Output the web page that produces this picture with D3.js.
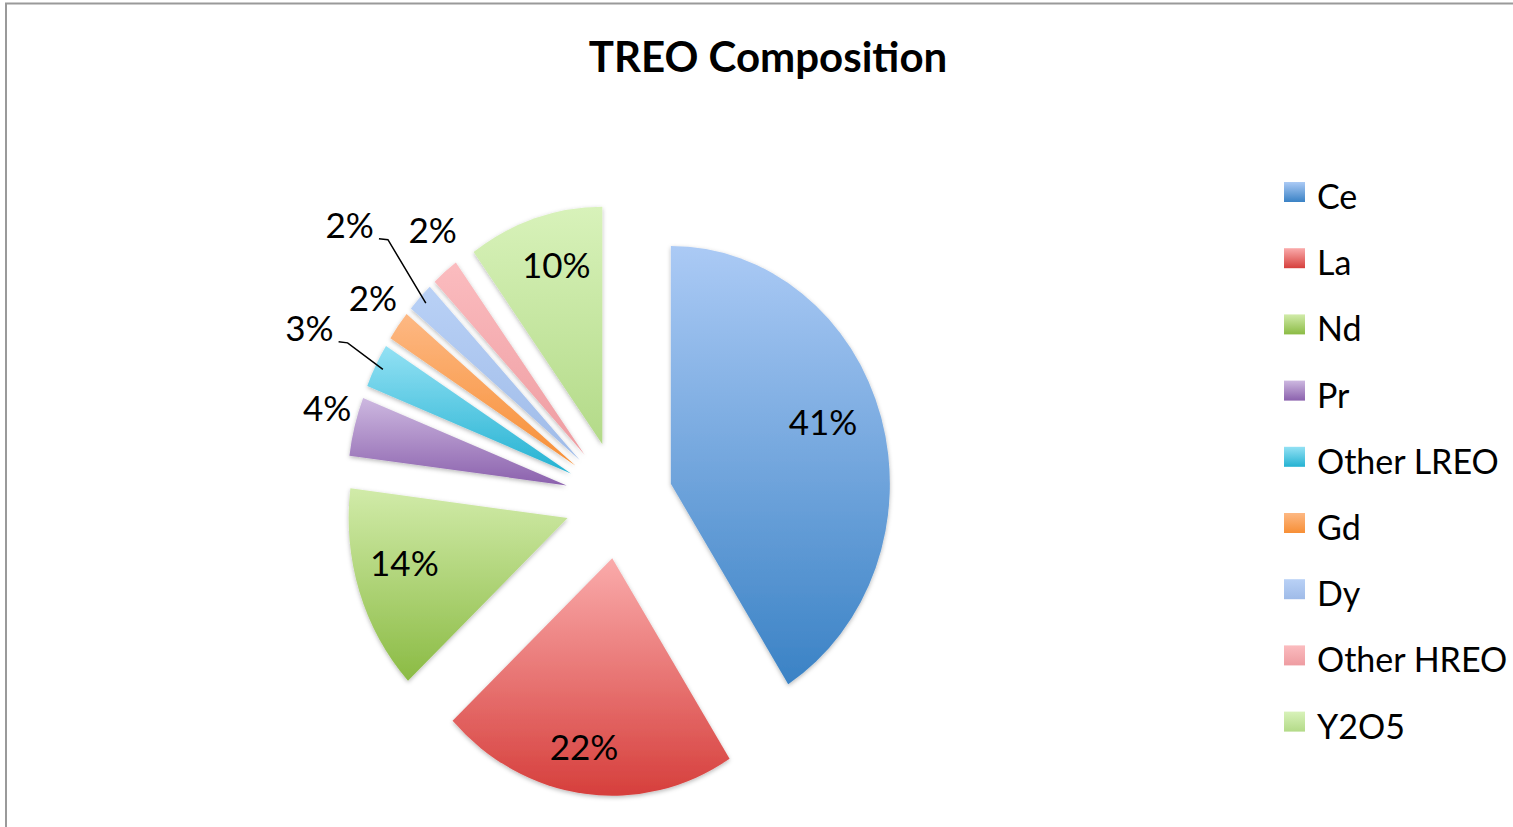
<!DOCTYPE html>
<html>
<head>
<meta charset="utf-8">
<script src="https://cdn.jsdelivr.net/npm/d3@7/dist/d3.min.js"></script>
<style>
  body { margin: 0; background: #fff; }
  text { font-family: Lato, "Open Sans", sans-serif; fill: #000; }
</style>
</head>
<body>
<div id="output"></div>
<script>
var elements = ['Ce', 'La', 'Nd', 'Pr', 'Other LREO', 'Gd', 'Dy', 'Other HREO', 'Y2O5'];
var shares = [41, 22, 14, 4, 3, 2, 2, 2, 10];

var topColors = ['#abcaf5', '#faabab', '#d1eba9', '#cdb8e0', '#93e1f4', '#fdb883', '#b9d1f6', '#fbbcbf', '#d8f2ba'];
var bottomColors = ['#3a82c5', '#d63f3c', '#8bbb44', '#8b61ad', '#24b2d2', '#f78f36', '#9fbbe8', '#ee9ca1', '#b3da88'];

// where each percentage sits: fraction of the radius out from the slice tip,
// and a small turn (degrees) away from the slice's middle
var labelDist = [0.74, 0.81, 0.77, 1.14, 1.34, 1.16, 1.44, 1.17, 0.78];
var labelTurn = [-3, 1.5, 2.6, 1.6, 0, 1, 0, 2.7, 1.8];
var hasLeader = [false, false, false, false, true, false, true, false, false];

var width = 1513, height = 827;
var cx = 619, cy = 500, r = 219, sy = 1.085, explode = 54;

var svg = d3.select('#output').append('svg')
  .attr('width', width)
  .attr('height', height);

var defs = svg.append('defs');

elements.forEach(function (name, i) {
  var g = defs.append('linearGradient')
    .attr('id', 'grad' + i)
    .attr('x1', 0).attr('y1', 0).attr('x2', 0).attr('y2', 1);
  g.append('stop').attr('offset', '0%').attr('stop-color', topColors[i]);
  g.append('stop').attr('offset', '100%').attr('stop-color', bottomColors[i]);
});

var shadow = defs.append('filter')
  .attr('id', 'shadow')
  .attr('x', '-20%').attr('y', '-20%').attr('width', '140%').attr('height', '140%');
shadow.append('feDropShadow')
  .attr('dx', 0).attr('dy', 1.5)
  .attr('stdDeviation', 2)
  .attr('flood-color', '#000')
  .attr('flood-opacity', 0.28);

//Chart frame
svg.append('rect')
  .attr('x', 6)
  .attr('y', 3.5)
  .attr('width', width + 20)
  .attr('height', height + 20)
  .attr('fill', 'none')
  .attr('stroke', '#9a9a9a')
  .attr('stroke-width', 2);

//Title
svg.append('text')
  .attr('x', 768)
  .attr('y', 72)
  .attr('text-anchor', 'middle')
  .style('font-weight', 700)
  .style('font-size', '42px')
  .text('TREO Composition');

var pie = d3.pie().sort(null).value(function (d) { return d; });
var arcs = pie(shares);
var total = d3.sum(shares);

var arc = d3.arc().innerRadius(0).outerRadius(r);

var pieGroup = svg.append('g')
  .attr('transform', 'translate(' + cx + ',' + cy + ') scale(1,' + sy + ')');

function mid(a) { return (a.startAngle + a.endAngle) / 2; }

//Draw the exploded slices
pieGroup.selectAll('path')
  .data(arcs)
  .enter().append('path')
  .attr('d', arc)
  .attr('transform', function (a) {
    var m = mid(a);
    return 'translate(' + (explode * Math.sin(m)) + ',' + (-explode * Math.cos(m)) + ')';
  })
  .attr('fill', function (a, i) { return 'url(#grad' + i + ')'; })
  .attr('filter', 'url(#shadow)');

function point(m, dist) {
  return [cx + dist * Math.sin(m), cy - dist * Math.cos(m) * sy];
}

//Percentage labels
arcs.forEach(function (a, i) {
  var m = mid(a) + labelTurn[i] * Math.PI / 180;
  var p = point(m, explode + labelDist[i] * r);
  var t = svg.append('text')
    .attr('x', p[0])
    .attr('y', p[1])
    .attr('text-anchor', 'middle')
    .attr('dy', '0.35em')
    .style('font-size', '35px')
    .text(Math.round(a.value / total * 100) + '%');

  if (hasLeader[i]) {
    var half = t.node().getComputedTextLength() / 2;
    var end = point(mid(a), explode + r - 8);
    var sx = p[0] + half + 5, ly = p[1] + 13;
    svg.append('path')
      .attr('d', d3.line()([[sx, ly], [sx + 9, ly + 1], end]))
      .attr('fill', 'none')
      .attr('stroke', '#000')
      .attr('stroke-width', 1.5);
  }
});

//Legend
var legend = svg.append('g')
  .attr('transform', 'translate(1284,182)');

var row = legend.selectAll('g')
  .data(elements)
  .enter().append('g')
  .attr('transform', function (d, i) { return 'translate(0,' + (i * 66.2) + ')'; });

row.append('rect')
  .attr('width', 21)
  .attr('height', 20)
  .attr('fill', function (d, i) { return 'url(#grad' + i + ')'; });

row.append('text')
  .attr('x', 33)
  .attr('y', 27)
  .style('font-size', '34px')
  .text(function (d) { return d; });
</script>
</body>
</html>
